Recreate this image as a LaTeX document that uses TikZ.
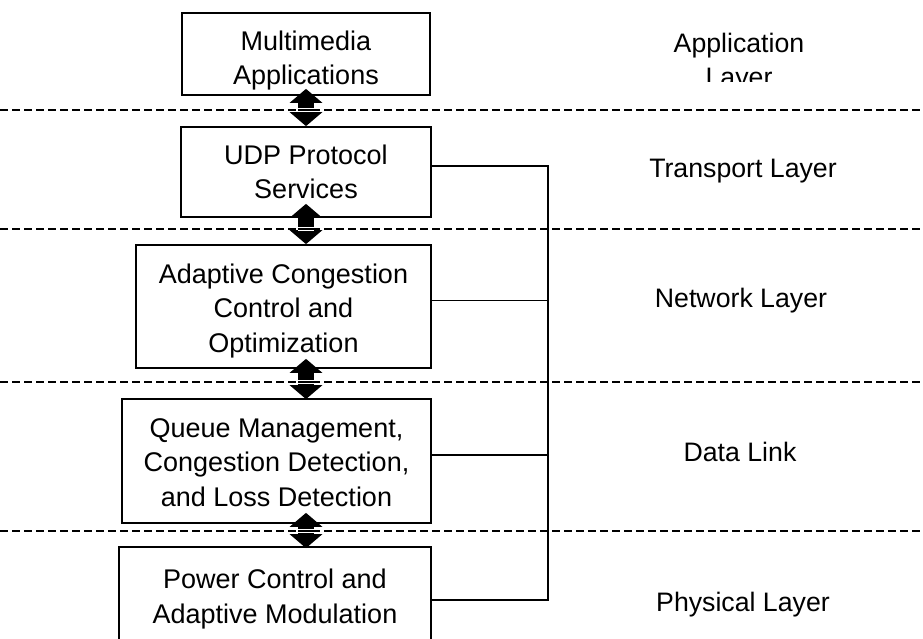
\documentclass[tikz,border=0pt]{standalone}
\usepackage{fontspec}
\setmainfont{Liberation Sans}
\usetikzlibrary{arrows.meta,calc}

\begin{document}
\begin{tikzpicture}[
x=1pt,y=-1pt,
box/.style={draw,line width=1.7pt,inner sep=0pt},
txt/.style={align=center,font=\fontsize{27}{34.5}\selectfont,inner sep=0pt,anchor=base},
layer/.style={align=center,font=\fontsize{26.7}{34.5}\selectfont,inner sep=0pt,anchor=base},
sep/.style={dash pattern=on 7.5pt off 4.5pt,line width=1.6pt},
gap/.style={draw=white,double=black,double distance=1.6pt,line width=1pt},
link/.style={line width=1.3pt},
updown/.style={line width=16pt,{Triangle[length=14pt,width=32pt]}-{Triangle[length=14pt,width=32pt]}}
]
\useasboundingbox (0,0) rectangle (923,639);
\clip (0,0) rectangle (923,639);

% protocol stack
\node[box,minimum width=248pt,minimum height=82pt] (mm) at (306,54) {};
\node[box,minimum width=250pt,minimum height=90pt] (udp) at (306,172) {};
\node[box,minimum width=295pt,minimum height=123pt] (ctrl) at (283.5,306.5) {};
\node[box,minimum width=309pt,minimum height=124pt] (queue) at (276.5,461) {};
\node[box,minimum width=312pt,minimum height=118pt] (phy) at (275,606) {};

% texts sit on the baseline of their last line
\node[txt] (mmtext) at (306,85) {Multimedia\\Applications};
\node[txt] (udptext) at (306,199) {UDP Protocol\\Services};
\node[txt] (ctrltext) at (283.5,352) {Adaptive Congestion\\Control and\\Optimization};
\node[txt] (queuetext) at (276.5,506) {Queue Management,\\Congestion Detection,\\and Loss Detection};
\node[txt] (phytext) at (275,623) {Power Control and\\Adaptive Modulation};

% layer names
\begin{scope}
  \clip (600,0) rectangle (923,82);
  \node[layer] (applbl) at (739,87) {Application\\Layer};
\end{scope}
\node[layer] (translbl) at (743,178) {Transport Layer};
\node[layer] (netlbl) at (741,307) {Network Layer};
\node[layer] (linklbl) at (740,461) {Data Link};
\node[layer] (phylbl) at (743,611) {Physical Layer};

% between-layer arrows
\coordinate (axis) at (306,0);
\foreach \a/\b/\s/\e in {mm/udp/7/0,udp/ctrl/14/0,ctrl/queue/10/-1,queue/phy/11/-2}
  \draw[updown] ([yshift=\s pt]\a.south -| axis) -- ([yshift=\e pt]\b.north -| axis);

% layer separators, crossing the arrow shafts
\foreach \y in {110,229,382,531}{
  \draw[sep] (0,\y) -- (923,\y);
  \draw[gap] (298,\y) -- (314,\y);
}

% cross-layer link
\coordinate (bus) at (548,0);
\draw[link] ([yshift=6pt]udp.east) -| ([yshift=6pt]phy.east -| bus) -- ([yshift=6pt]phy.east);
\foreach \b in {ctrl,queue}
  \draw[link] ([yshift=6pt]\b.east) -- ([yshift=6pt]\b.east -| bus);
\end{tikzpicture}
\end{document}
